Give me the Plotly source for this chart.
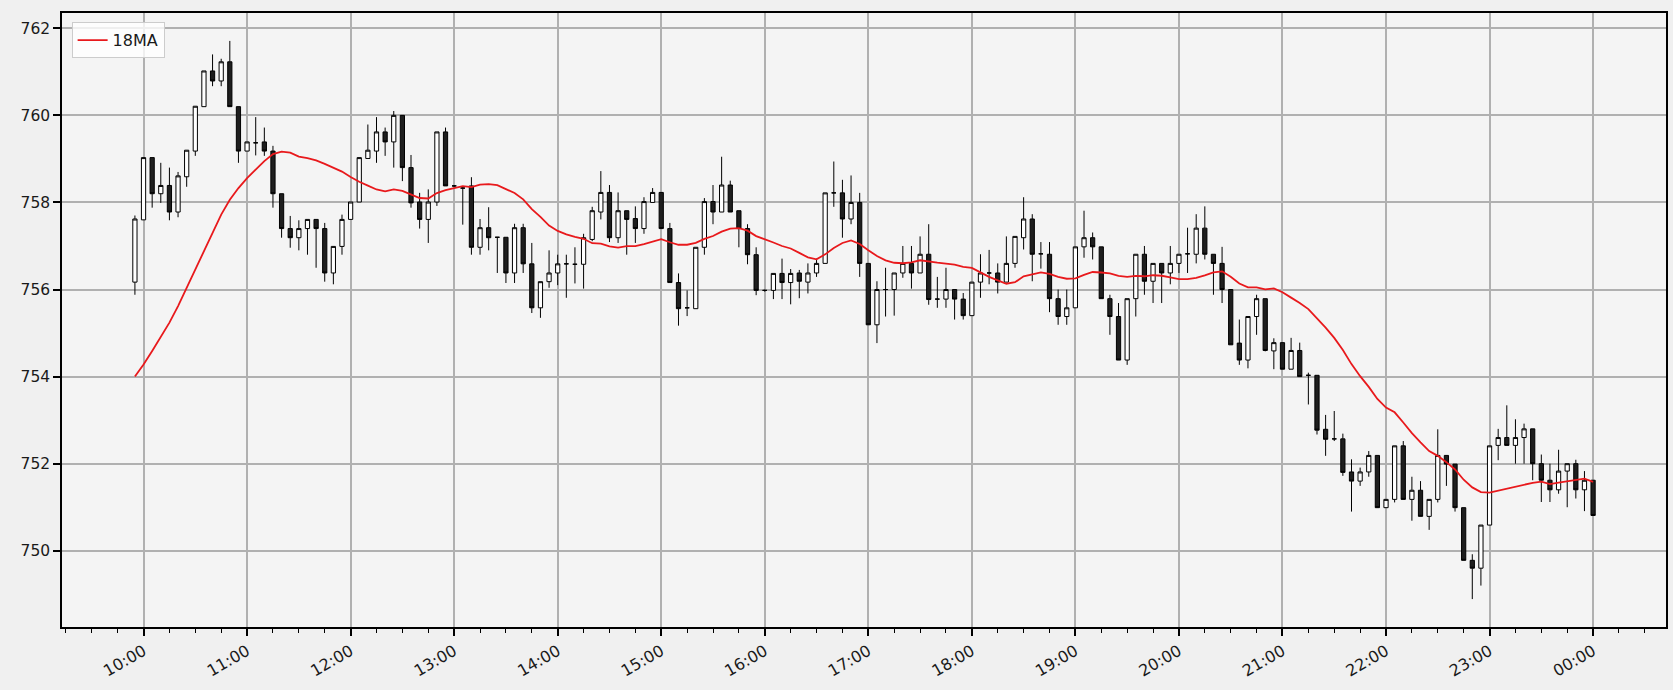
import plotly.graph_objects as go
import pandas as pd

# 5-minute bars, 09:55 -> 00:00
start = "2024-01-01 09:55"

opens = [756.17, 757.60, 759.03, 758.20, 758.39, 757.78, 758.59, 759.18, 760.20, 761.02, 760.79, 761.23, 760.20,
         759.18, 759.37, 759.39, 759.18, 758.20, 757.40, 757.19, 757.40, 757.61, 757.40, 756.38, 756.99,
         757.61, 758.01, 759.01, 759.18, 759.62, 759.39, 760.00, 758.80, 758.01, 757.61, 758.01, 759.62,
         758.38, 758.33, 758.38, 756.97, 757.42, 757.20, 757.20, 756.38, 757.42, 756.59, 755.58, 756.18,
         756.38, 756.59, 756.58, 756.58, 757.15, 757.78, 758.23, 757.19, 757.81, 757.63, 757.40, 758.00,
         758.23, 757.40, 756.16, 755.58, 755.56, 756.97, 758.02, 757.78, 758.40, 757.81, 757.40, 756.80,
         755.98, 755.98, 756.37, 756.16, 756.38, 756.17, 756.38, 756.60, 758.22, 758.22, 757.62, 758.00,
         756.60, 755.19, 756.00, 756.00, 756.38, 756.60, 756.38, 756.81, 755.78, 755.78, 756.00, 755.78,
         755.40, 756.17, 756.38, 756.38, 756.17, 756.60, 757.19, 757.62, 756.82, 756.81, 755.79, 755.38,
         755.58, 756.98, 757.19, 756.98, 755.79, 755.38, 754.38, 755.79, 756.81, 756.19, 756.60, 756.38,
         756.60, 756.82, 756.81, 757.41, 756.81, 756.60, 756.00, 754.77, 754.38, 755.38, 755.79, 754.59,
         754.78, 754.17, 754.60, 754.03, 754.03, 752.79, 752.57, 752.57, 751.81, 751.60, 751.81, 752.19,
         750.99, 751.18, 752.41, 751.18, 751.39, 750.79, 751.18, 752.19, 751.99, 750.99, 749.78, 749.60,
         750.59, 752.42, 752.60, 752.42, 752.60, 752.80, 752.00, 751.62, 751.40, 751.83, 752.00, 751.40,
         751.62]
highs = [757.70, 759.03, 759.03, 758.91, 758.80, 758.70, 759.20, 760.21, 761.02, 761.40, 761.30, 761.71, 760.20,
         759.39, 759.96, 759.72, 759.30, 758.20, 757.69, 757.59, 757.61, 757.61, 757.53, 756.99, 757.72,
         758.01, 759.03, 759.79, 759.96, 759.72, 760.10, 760.00, 759.09, 758.22, 758.30, 759.62, 759.72,
         758.40, 758.36, 758.58, 757.62, 757.89, 757.20, 757.20, 757.51, 757.51, 757.07, 756.18, 756.90,
         756.80, 756.80, 756.97, 757.28, 757.90, 758.72, 758.40, 758.23, 757.81, 757.91, 758.12, 758.33,
         758.23, 757.53, 756.37, 755.98, 756.97, 758.10, 758.40, 759.05, 758.50, 757.81, 757.50, 756.97,
         756.00, 756.37, 756.71, 756.47, 756.45, 756.60, 756.71, 758.22, 758.94, 758.52, 758.62, 758.22,
         756.60, 756.19, 756.50, 756.38, 757.00, 757.00, 757.22, 757.50, 756.29, 756.50, 756.00, 755.92,
         756.17, 756.81, 756.91, 756.60, 757.22, 757.22, 758.12, 757.73, 757.09, 757.09, 756.00, 756.00,
         756.98, 757.81, 757.31, 756.98, 755.88, 755.69, 755.79, 756.81, 757.00, 756.60, 756.60, 757.00,
         756.81, 757.42, 757.73, 757.91, 756.81, 756.98, 756.00, 755.31, 755.38, 755.88, 755.79, 754.88,
         754.78, 754.89, 754.78, 754.09, 754.03, 753.12, 753.21, 752.69, 752.10, 751.91, 752.29, 752.19,
         751.18, 752.41, 752.52, 751.70, 751.60, 751.18, 752.79, 752.19, 751.99, 750.99, 749.92, 750.59,
         752.41, 752.80, 753.34, 753.02, 752.92, 752.80, 752.21, 752.00, 752.32, 752.00, 752.09, 751.83,
         751.62]
lows = [755.88, 757.60, 757.88, 757.99, 757.59, 757.66, 758.36, 759.07, 760.20, 760.67, 760.67, 760.20, 758.91,
        759.18, 759.08, 759.07, 757.88, 757.19, 756.96, 756.90, 756.80, 756.50, 756.18, 756.12, 756.80,
        757.61, 758.01, 759.01, 758.91, 759.07, 758.80, 758.49, 757.88, 757.40, 757.07, 757.92, 758.38,
        758.36, 757.49, 756.80, 756.80, 756.90, 756.38, 756.15, 756.15, 756.38, 755.46, 755.35, 756.04,
        756.10, 755.81, 756.14, 756.02, 757.11, 757.61, 757.09, 757.07, 756.80, 757.07, 757.28, 758.00,
        757.40, 756.16, 755.17, 755.39, 755.56, 756.80, 757.50, 757.78, 757.78, 756.97, 756.58, 755.87,
        755.95, 755.78, 755.78, 755.66, 755.80, 755.91, 756.29, 756.60, 757.90, 757.19, 757.50, 756.29,
        755.19, 754.77, 755.38, 755.40, 756.27, 756.02, 756.38, 755.65, 755.58, 755.58, 755.31, 755.31,
        755.40, 755.81, 756.12, 755.91, 756.17, 756.50, 756.92, 756.19, 756.48, 755.48, 755.19, 755.19,
        755.58, 756.73, 756.69, 755.79, 754.96, 754.38, 754.27, 755.38, 755.88, 755.69, 755.69, 756.12,
        756.38, 756.38, 756.60, 756.69, 755.88, 755.69, 754.73, 754.27, 754.19, 754.96, 754.58, 754.17,
        754.17, 754.17, 754.00, 753.36, 752.67, 752.18, 752.52, 751.72, 750.90, 751.49, 751.70, 750.99,
        750.99, 751.11, 751.18, 750.69, 750.79, 750.48, 751.11, 751.49, 750.90, 749.78, 748.89, 749.20,
        750.59, 752.08, 752.42, 752.00, 752.00, 751.62, 751.12, 751.12, 751.31, 751.00, 751.20, 750.91,
        750.81]
closes = [757.62, 759.03, 758.20, 758.39, 757.78, 758.61, 759.20, 760.21, 761.02, 760.79, 761.23, 760.20, 759.18,
          759.39, 759.37, 759.18, 758.20, 757.40, 757.19, 757.40, 757.61, 757.40, 756.38, 756.99, 757.61,
          758.01, 759.03, 759.20, 759.62, 759.39, 760.00, 758.80, 757.99, 757.61, 758.01, 759.62, 758.38,
          758.38, 758.33, 756.97, 757.42, 757.19, 757.20, 756.38, 757.42, 756.59, 755.58, 756.18, 756.38,
          756.59, 756.59, 756.58, 757.19, 757.81, 758.23, 757.19, 757.81, 757.61, 757.40, 758.02, 758.23,
          757.40, 756.16, 755.56, 755.58, 756.97, 758.02, 757.78, 758.40, 757.78, 757.40, 756.80, 755.98,
          755.98, 756.37, 756.16, 756.37, 756.19, 756.38, 756.60, 758.22, 758.22, 757.62, 758.00, 756.60,
          755.19, 756.00, 756.00, 756.38, 756.60, 756.38, 756.81, 755.77, 755.78, 756.00, 755.78, 755.40,
          756.17, 756.38, 756.38, 756.17, 756.60, 757.22, 757.62, 756.81, 756.82, 755.79, 755.38, 755.58,
          756.98, 757.19, 756.98, 755.79, 755.38, 754.38, 755.79, 756.81, 756.19, 756.60, 756.38, 756.60,
          756.81, 756.82, 757.41, 756.81, 756.60, 756.00, 754.73, 754.38, 755.38, 755.79, 754.60, 754.78,
          754.17, 754.60, 754.00, 754.03, 752.77, 752.56, 752.57, 751.80, 751.60, 751.81, 752.19, 750.99,
          751.18, 752.41, 751.18, 751.39, 750.79, 751.18, 752.19, 751.99, 750.99, 749.78, 749.60, 750.59,
          752.41, 752.60, 752.42, 752.60, 752.80, 752.00, 751.62, 751.40, 751.83, 752.00, 751.40, 751.62,
          750.81]

# 18MA values for the first 17 bars (window reaches back before the chart starts)
ma_head = [754.00, 754.28, 754.59, 754.93, 755.24, 755.62, 756.04, 756.50, 756.92, 757.34, 757.72, 758.06,
           758.33, 758.56, 758.76, 758.95, 759.11]

df = pd.DataFrame({"Open": opens, "High": highs, "Low": lows, "Close": closes})
df["Date"] = pd.date_range(start, periods=len(df), freq="5min")
df["MA18"] = df["Close"].rolling(18).mean()
df.loc[:len(ma_head) - 1, "MA18"] = ma_head

# matplotlib-like 5% margins
t0, t1 = df["Date"].iloc[0], df["Date"].iloc[-1]
tpad = (t1 - t0) * 0.05
ylo, yhi = df["Low"].min(), df["High"].max()
ypad = (yhi - ylo) * 0.05

fig = go.Figure()
fig.add_trace(go.Candlestick(x=df["Date"], open=df["Open"], high=df["High"], low=df["Low"], close=df["Close"],
                             increasing=dict(line=dict(color="black", width=1), fillcolor="white"),
                             decreasing=dict(line=dict(color="black", width=1), fillcolor="#1e1e1e"),
                             whiskerwidth=0, showlegend=False, name="price"))
fig.add_trace(go.Scatter(x=df["Date"], y=df["MA18"], mode="lines", name="18MA",
                         line=dict(color="#e8191c", width=1.8)))

fig.update_layout(width=1673, height=690, autosize=False,
                  margin=dict(l=62, r=5, t=13, b=63),
                  paper_bgcolor="#f0f0f0", plot_bgcolor="#f4f4f4",
                  font=dict(family="DejaVu Sans", size=15.5, color="#1a1a1a"),
                  xaxis_rangeslider_visible=False,
                  legend=dict(x=0.006, y=0.985, xanchor="left", yanchor="top",
                              bgcolor="rgba(255,255,255,0.8)", bordercolor="#cccccc", borderwidth=1,
                              font=dict(size=16)))

fig.update_xaxes(range=[t0 - tpad, t1 + tpad], tickformat="%H:%M", tick0="2024-01-01 10:00", dtick=3600000,
                 tickangle=-30, ticks="outside", ticklen=7, tickwidth=1.5, tickcolor="black",
                 tickfont=dict(size=16),
                 showgrid=True, gridcolor="#b0b0b0", gridwidth=1.5,
                 showline=True, linecolor="black", linewidth=1.5, mirror=True, zeroline=False,
                 minor=dict(ticks="outside", ticklen=4, tickwidth=1.2, tickcolor="black",
                            dtick=900000, tick0="2024-01-01 10:00", showgrid=False))
fig.update_yaxes(range=[ylo - ypad, yhi + ypad], tick0=750, dtick=2,
                 ticks="outside", ticklen=7, tickwidth=1.5, tickcolor="black",
                 showgrid=True, gridcolor="#b0b0b0", gridwidth=1.5,
                 showline=True, linecolor="black", linewidth=1.5, mirror=True, zeroline=False)

# no page margin, so the figure fills the window like the original
fig.write_html("out.html", config={"displayModeBar": False},
               post_script="document.body.style.margin='0';document.body.style.background='#f0f0f0';")
